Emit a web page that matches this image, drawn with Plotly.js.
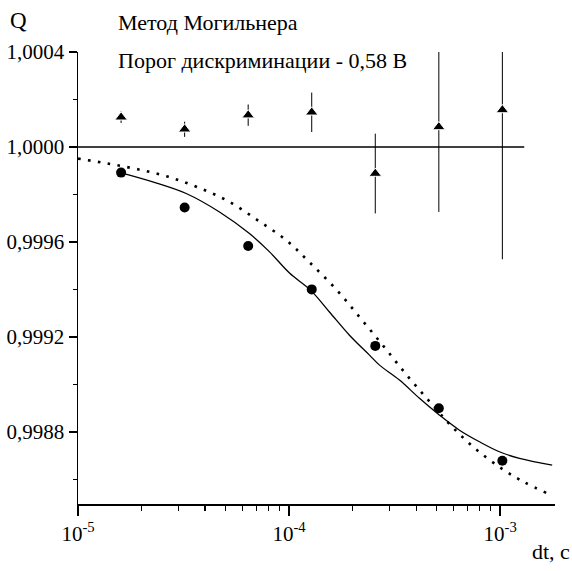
<!DOCTYPE html>
<html>
<head>
<meta charset="utf-8">
<script src="https://cdn.plot.ly/plotly-3.0.1.min.js"></script>
<style>html,body{margin:0;padding:0;background:#fff;}#chart{width:572px;height:571px;}</style>
</head>
<body>
<div id="chart"></div>
<script>
// Measured points (circles)
const dtCircles = [1.6e-5, 3.2e-5, 6.4e-5, 1.28e-4, 2.56e-4, 5.12e-4, 1.024e-3];
const qCircles  = [0.999892, 0.999745, 0.999583, 0.999400, 0.999162, 0.998899, 0.998678];

// Triangles with error bars
const dtTri  = [1.6e-5, 3.2e-5, 6.4e-5, 1.28e-4, 2.56e-4, 5.12e-4, 1.024e-3];
const qTri   = [1.000125, 1.0000745, 1.000134, 1.000146, 0.999888, 1.0000842, 1.0001558];
const errTri = [0.000024, 0.000032, 0.000045, 0.000083, 0.000168, 0.000358, 0.000629];

// Solid fitted curve
const dtSolid = [1.585e-5, 2.26e-5, 3.254e-5, 4.68e-5, 6.49e-5, 8.08e-5, 1.004e-4, 1.263e-4, 1.553e-4, 1.932e-4, 2.404e-4, 2.68e-4, 3.334e-4, 4.147e-4, 5.16e-4, 6.414e-4, 7.977e-4, 9.92e-4, 1.234e-3, 1.763e-3];
const qSolid  = [0.999892, 0.999853, 0.999804, 0.999726, 0.999635, 0.999558, 0.999469, 0.999397, 0.999305, 0.999207, 0.999123, 0.999081, 0.999018, 0.998941, 0.998870, 0.998807, 0.998758, 0.998716, 0.998688, 0.998660];

// Dotted curve
const dtDot = [1.0e-5, 1.384e-5, 1.92e-5, 2.684e-5, 3.694e-5, 5.163e-5, 7.107e-5, 9.69e-5, 1.253e-4, 1.671e-4, 2.172e-4, 2.8e-4, 3.587e-4, 4.662e-4, 5.923e-4, 7.696e-4, 1.029e-3, 1.293e-3, 1.651e-3];
const qDot  = [0.999951, 0.999930, 0.999906, 0.999874, 0.999830, 0.999771, 0.999691, 0.999607, 0.999513, 0.999400, 0.999280, 0.999161, 0.999042, 0.998924, 0.998821, 0.998726, 0.998642, 0.998589, 0.998543];

// Reference line Q = 1
const dtRef = [1.0e-5, 1.3e-3];
const qRef  = [1.0, 1.0];

// Tick labels
const xTickVals = [1e-5, 1e-4, 1e-3];
const xTickText = ["10<sup>-5</sup>", "10<sup>-4</sup>", "10<sup>-3</sup>"];
const yTickVals = [0.9988, 0.9992, 0.9996, 1.0000, 1.0004];
const yTickText = ["0,9988", "0,9992", "0,9996", "1,0000", "1,0004"];
const yMinorVals = [0.9986, 0.9990, 0.9994, 0.9998, 1.0002];

const xMinorVals = [];
[1e-5, 1e-4, 1e-3].forEach(d => { for (let k = 2; k <= 9; k++) xMinorVals.push(k * d); });

const FONT = "Liberation Serif, Times New Roman, serif";

const traces = [
  {x: dtRef, y: qRef, mode: 'lines', line: {color: '#000', width: 1.5}, hoverinfo: 'skip'},
  {x: dtSolid, y: qSolid, mode: 'lines', line: {color: '#000', width: 1.3, shape: 'spline', smoothing: 1}},
  {x: dtDot, y: qDot, mode: 'lines', line: {color: '#000', width: 2.6, shape: 'spline', smoothing: 1, dash: '2.6px,7.4px'}},
  {x: dtCircles, y: qCircles, mode: 'markers', marker: {symbol: 'circle', size: 10, color: '#000'}},
  {x: dtTri, y: qTri, mode: 'markers',
   marker: {symbol: 'triangle-up', size: 11, color: '#000', line: {color: '#fff', width: 1}},
   error_y: {type: 'data', array: errTri, visible: true, thickness: 1, width: 0, color: '#000'}}
];

const layout = {
  width: 572, height: 571,
  margin: {l: 78, r: 17, t: 52, b: 67},
  paper_bgcolor: '#fff', plot_bgcolor: '#fff',
  showlegend: false,
  separators: ', ',
  font: {family: FONT, size: 21, color: '#000'},
  xaxis: {
    type: 'log', range: [-5, -2.7404],
    showgrid: false, zeroline: false,
    showline: true, linecolor: '#000', linewidth: 1.5,
    ticks: 'outside', ticklen: 10, tickwidth: 1.5, tickcolor: '#000',
    tickmode: 'array', tickvals: xTickVals, ticktext: xTickText,
    tickfont: {family: FONT, size: 21, color: '#000'},
    minor: {ticks: 'outside', ticklen: 5, tickwidth: 1.2, tickcolor: '#000', tickmode: 'array', tickvals: xMinorVals, showgrid: false}
  },
  yaxis: {
    range: [0.998496, 1.0004],
    showgrid: false, zeroline: false,
    showline: true, linecolor: '#000', linewidth: 1.5,
    ticks: 'outside', ticklen: 8, tickwidth: 1.5, tickcolor: '#000',
    tickmode: 'array', tickvals: yTickVals, ticktext: yTickText,
    tickfont: {family: FONT, size: 21, color: '#000'},
    minor: {ticks: 'outside', ticklen: 4, tickwidth: 1.2, tickcolor: '#000', tickmode: 'array', tickvals: yMinorVals, showgrid: false}
  },
  annotations: [
    {xref: 'paper', yref: 'paper', x: -78/477, y: 1 + 31/452, xanchor: 'left', yanchor: 'middle', text: 'Q', showarrow: false, font: {family: FONT, size: 23}, xshift: 8},
    {xref: 'paper', yref: 'paper', x: (116-78)/477, y: 1 + 30/452, xanchor: 'left', yanchor: 'middle', text: 'Метод Могильнера', showarrow: false, font: {family: FONT, size: 22}},
    {xref: 'paper', yref: 'paper', x: (116-78)/477, y: 1 - 8/452, xanchor: 'left', yanchor: 'middle', text: 'Порог дискриминации - 0,58 В', showarrow: false, font: {family: FONT, size: 22}},
    {xref: 'paper', yref: 'paper', x: 1 + 17/477, y: -(551-504)/452, xanchor: 'right', yanchor: 'middle', text: 'dt, c', showarrow: false, font: {family: FONT, size: 22}}
  ]
};

Plotly.newPlot('chart', traces, layout, {displayModeBar: false, staticPlot: true});
</script>
</body>
</html>
